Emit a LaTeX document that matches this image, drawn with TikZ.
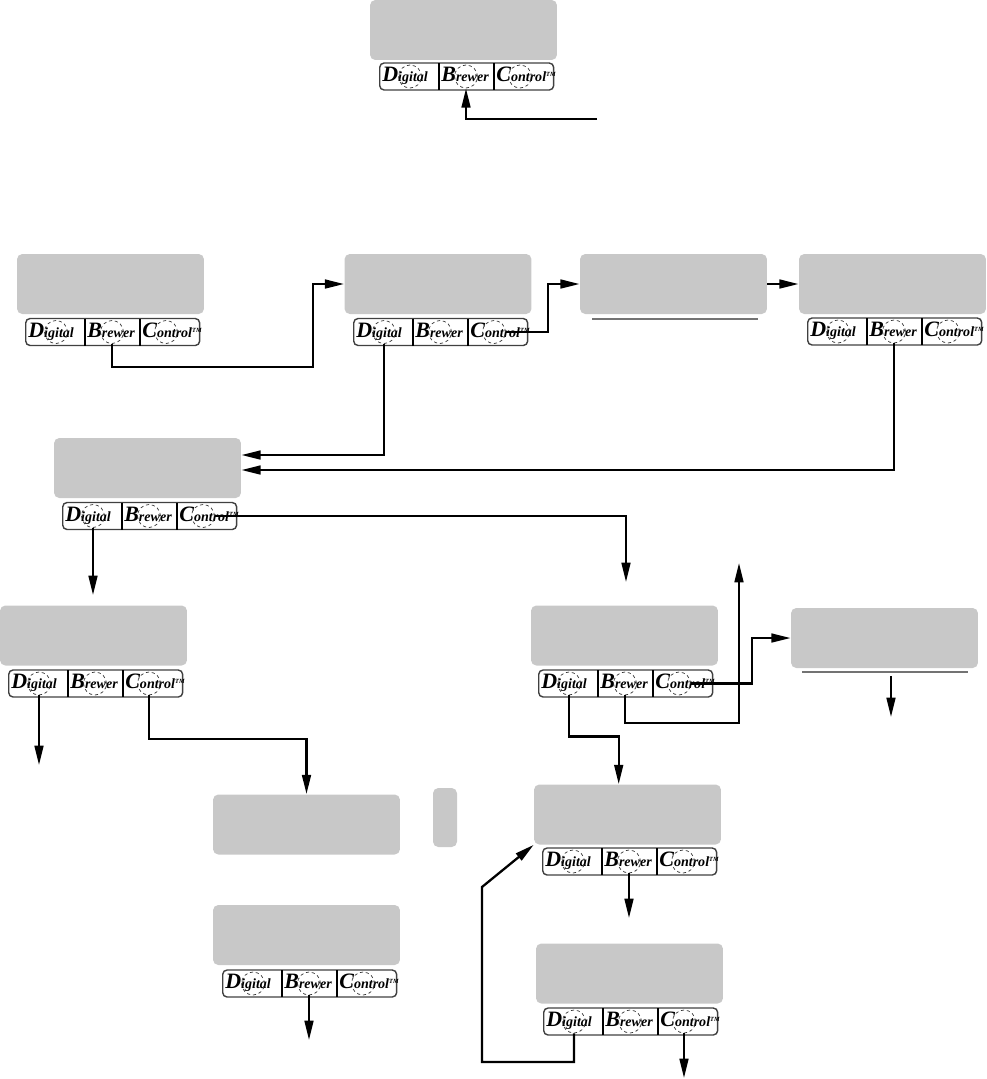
\documentclass[tikz,border=0pt]{standalone}
\usepackage{fontspec}
\newfontfamily\btnfont{Liberation Serif}
\usetikzlibrary{arrows.meta,calc}
\definecolor{lcdgray}{HTML}{C8C8C8}

\newcommand{\bigfirst}{\fontsize{12.5}{12.5}\selectfont}
\newcommand{\btnbar}[3]{%
  \node[btnbox] (#1) at (#2,#3) {};
  \draw[btnsep] ({#2+60},{#3-13.5}) -- ({#2+60},{#3+13.5});
  \draw[btnsep] ({#2+115},{#3-13.5}) -- ({#2+115},{#3+13.5});
  \node[btnlbl] at ({#2+3},{#3+5}) {{\bigfirst D}igital};
  \node[btnlbl] at ({#2+62},{#3+5}) {{\bigfirst B}rewer};
  \node[btnlbl] at ({#2+117},{#3+5}) {{\bigfirst C}ontrol\raisebox{2.6pt}{\fontsize{3.6}{4}\selectfont TM}};
  \node[btnring] (#1-d) at ({#2+31},#3) {};
  \node[btnring] (#1-b) at ({#2+87},#3) {};
  \node[btnring] (#1-c) at ({#2+141},#3) {};
}

\begin{document}
\begin{tikzpicture}[x=0.02cm,y=-0.02cm,
    display/.style={fill=lcdgray,rounded corners=3pt,minimum width=3.74cm,minimum height=1.2cm,inner sep=0pt},
    btnbox/.style={draw=black!75,line width=0.8pt,rounded corners=2.5pt,minimum width=3.48cm,minimum height=0.54cm,inner sep=0pt,anchor=west},
    btnsep/.style={line width=0.7pt},
    btnlbl/.style={anchor=base west,inner sep=0pt,font=\btnfont\bfseries\itshape\fontsize{8}{9}\selectfont},
    btnring/.style={circle,draw=black!80,line width=0.4pt,dash pattern=on 1.8pt off 1.6pt,minimum size=0.46cm,inner sep=0pt},
    conn/.style={line width=1.3pt,-{Triangle[length=11pt,width=5pt]}},
    underrule/.style={draw=black!55,line width=0.6pt}]
  \useasboundingbox (0,0) rectangle (987,1079);

  % displays
  \node[display] (dT) at (463.5,30) {};
  \node[display] (dA) at (110.5,284) {};
  \node[display] (dB) at (438,284) {};
  \node[display] (dC) at (673.5,284) {};
  \node[display] (dD) at (892.5,284) {};
  \node[display] (dE) at (147.5,468) {};
  \node[display] (dF) at (93.5,635.5) {};
  \node[display] (dG) at (306.5,824.5) {};
  \node[display,minimum width=0.48cm,minimum height=1.18cm] (dGside) at (445,817.5) {};
  \node[display] (dH) at (306.5,935) {};
  \node[display] (dI) at (624.5,635.5) {};
  \node[display] (dJ) at (884.5,638) {};
  \node[display] (dK) at (627.5,814.5) {};
  \node[display] (dL) at (629.5,973.5) {};
  \draw[underrule] (592,319) -- (758,319);
  \draw[underrule] (802,672) -- (968,672);

  % button bars
  \btnbar{bT}{379}{76.5}
  \btnbar{bA}{25}{332}
  \btnbar{bB}{353}{332}
  \btnbar{bD}{807}{331.5}
  \btnbar{bE}{62}{516}
  \btnbar{bF}{8}{683.5}
  \btnbar{bH}{222}{983.5}
  \btnbar{bI}{538}{683.5}
  \btnbar{bK}{542}{861.5}
  \btnbar{bL}{543}{1021.5}

  % free ends
  \coordinate (tIn) at (597,119);
  \coordinate (eDown) at (93,595);
  \coordinate (eOut) at (626,582);
  \coordinate (fDown) at (39,765);
  \coordinate (hDown) at (309,1040);
  \coordinate (iUp) at (739,563);
  \coordinate (jTop) at (891,676);
  \coordinate (jDown) at (891,717);
  \coordinate (kDown) at (629,918);
  \coordinate (lDown) at (684,1078);

  % connectors
  \draw[conn] (tIn) -| (bT-b.south);
  \draw[conn] (bA-b.south) |- (313,367) |- (dB.west);
  \draw[conn] (bB-c.east) -| (548,300) |- (dC.west);
  \draw[conn] (dC.east) -- (dD.west);
  \draw[conn] (bB-d.south) |- ($(dE.east)+(0,-13)$);
  \draw[conn] (bD-b.south) |- ($(dE.east)+(0,2)$);
  \draw[conn] (bE-d.south) -- (eDown);
  \draw[conn] (bE-c.east) -| (eOut);
  \draw[conn] (bF-d.south) -- (fDown);
  \draw[conn] (bF-c.south) |- ($(dG.north)+(0,-55)$) -- (dG.north);
  \draw[conn] (bH-b.south) -- (hDown);
  \draw[conn] (bI-c.east) -| ($(dJ.west)+(-39,0)$) -- (dJ.west);
  \draw[conn] (bI-b.south) |- ($(iUp)+(0,160)$) -- (iUp);
  \draw[conn] (bI-d.south) -- ++(0,41) -| ([xshift=-5pt]dK.north);
  \draw[conn] (jTop) -- (jDown);
  \draw[conn] (bK-b.south) -- (kDown);
  \draw[conn] (bL-d.south) |- (482,1062) -- (482,887) -- (dK.south west);
  \draw[conn] (bL-c.south) -- (lDown);
\end{tikzpicture}
\end{document}
